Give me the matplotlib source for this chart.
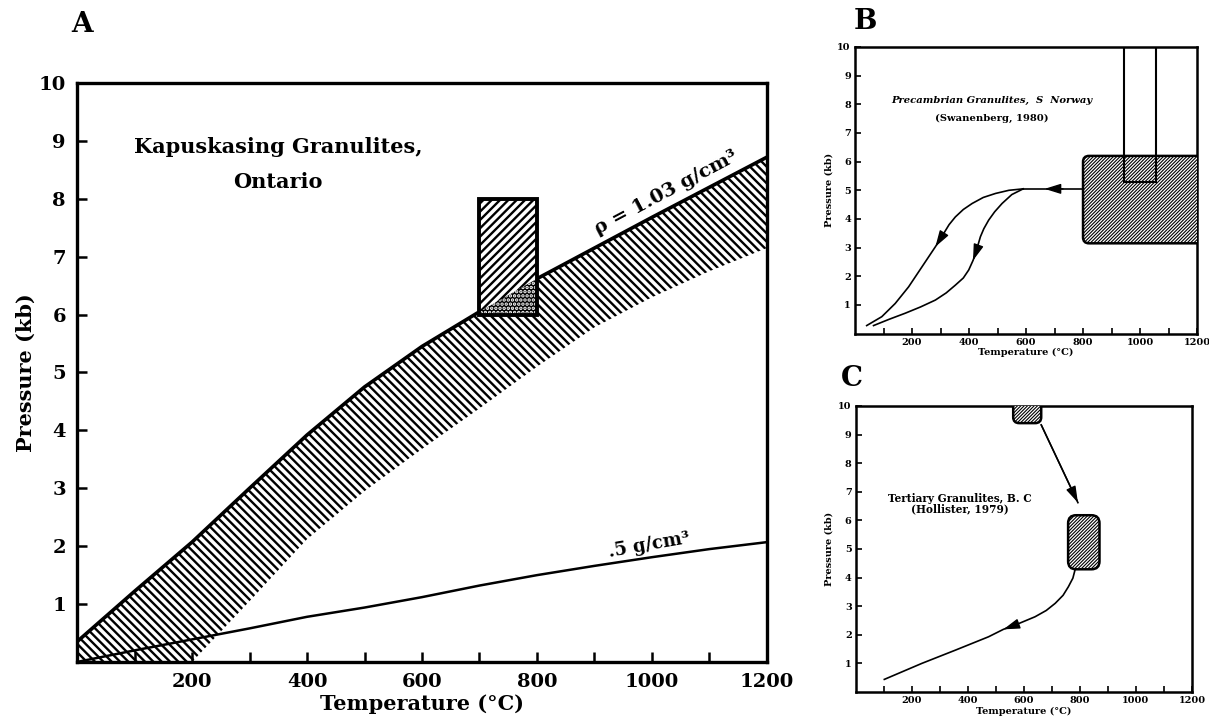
import numpy as np
import matplotlib
matplotlib.use('Agg')
import matplotlib.pyplot as plt
from matplotlib.patches import Rectangle, FancyBboxPatch, Polygon

plt.rcParams['font.family'] = 'DejaVu Serif'
plt.rcParams['font.weight'] = 'bold'
plt.rcParams['axes.labelweight'] = 'bold'
plt.rcParams['hatch.linewidth'] = 1.7

# ---- panel A data (Kapuskasing) ----
temp_a = [0, 100, 200, 300, 400, 500, 600, 700, 800, 900, 1000, 1100, 1200]
rho_103_top = [0.35, 1.22, 2.07, 3.0, 3.92, 4.75, 5.45, 6.05, 6.62, 7.15, 7.68, 8.2, 8.72]
rho_103_bot = [-2.2, -1.1, 0.0, 1.05, 2.12, 2.95, 3.68, 4.38, 5.1, 5.78, 6.3, 6.75, 7.15]
rho_05 = [0.0, 0.2, 0.39, 0.58, 0.78, 0.94, 1.12, 1.32, 1.5, 1.66, 1.81, 1.95, 2.07]
box_a_t = [700, 800]
box_a_p = [6.0, 8.0]

# ---- panel B data (S Norway) ----
norway_box_t = [800, 1230]
norway_box_p = [3.15, 6.2]
norway_open_t = [945, 1055]
norway_open_p = [5.3, 10.5]
path_b_flat_t = [800, 590]
path_b_flat_p = [5.05, 5.05]
path_b_outer_t = [590, 540, 493, 450, 411, 380, 352, 330, 311, 282, 235, 188, 141, 94, 41]
path_b_outer_p = [5.05, 5.0, 4.89, 4.75, 4.54, 4.33, 4.07, 3.8, 3.49, 3.03, 2.33, 1.63, 1.05, 0.59, 0.28]
path_b_inner_t = [590, 550, 516, 490, 469, 452, 440, 423, 414, 399, 380, 352, 320, 282, 230, 176, 120, 65]
path_b_inner_p = [5.05, 4.85, 4.54, 4.25, 3.96, 3.66, 3.38, 2.80, 2.55, 2.22, 1.94, 1.69, 1.42, 1.17, 0.93, 0.71, 0.5, 0.28]

# ---- panel C data (B.C.) ----
bc_top_t = [562, 662]
bc_top_p = [9.4, 10.6]
bc_mid_t = [758, 870]
bc_mid_p = [4.29, 6.18]
path_c1_t = [662, 793]
path_c1_p = [9.34, 6.62]
path_c2_t = [783, 775, 759, 740, 712, 680, 640, 569, 527, 474, 355, 236, 102]
path_c2_p = [4.28, 3.98, 3.68, 3.38, 3.10, 2.85, 2.63, 2.34, 2.19, 1.93, 1.46, 1.00, 0.44]

fig = plt.figure(figsize=(12.09, 7.23), dpi=100)

# ================= panel A =================
ax = fig.add_axes([0.0637, 0.0844, 0.5707, 0.8008])
ax.set_xlim(0, 1200)
ax.set_ylim(0, 10)
ax.fill_between(temp_a, rho_103_bot, rho_103_top, facecolor='white', edgecolor='black',
                hatch='\\\\\\\\', linewidth=0)
ax.plot(temp_a, rho_103_top, color='black', lw=2.6, solid_capstyle='butt')
ax.plot(temp_a, rho_05, color='black', lw=1.8)

# P-T box, single hatch above the band, dotted where it overlaps
ax.add_patch(Rectangle((box_a_t[0], box_a_p[0]), box_a_t[1] - box_a_t[0], box_a_p[1] - box_a_p[0],
                       facecolor='white', edgecolor='black', hatch='////', linewidth=0, zorder=3))
i0 = temp_a.index(box_a_t[0])
i1 = temp_a.index(box_a_t[1])
ov = [(box_a_t[0], box_a_p[0]), (box_a_t[1], box_a_p[0])]
ov += [(temp_a[i], rho_103_top[i]) for i in range(i1, i0 - 1, -1)]
ax.add_patch(Polygon(ov, closed=True, facecolor='black', edgecolor='white', hatch='....',
                     linewidth=0, zorder=4))
ax.add_patch(Rectangle((box_a_t[0], box_a_p[0]), box_a_t[1] - box_a_t[0], box_a_p[1] - box_a_p[0],
                       facecolor='none', edgecolor='black', linewidth=2.8, zorder=5))

ax.text(1025, 8.1, 'ρ = 1.03 g/cm³', rotation=28, ha='center', va='center', fontsize=14)
ax.text(995, 2.02, '.5 g/cm³', rotation=10, ha='center', va='center', fontsize=13)
ax.text(350, 8.9, 'Kapuskasing Granulites,', ha='center', va='center', fontsize=15)
ax.text(350, 8.29, 'Ontario', ha='center', va='center', fontsize=15)

ax.set_xticks(np.arange(100, 1201, 100))
ax.set_xticklabels(['' if t % 200 else str(t) for t in range(100, 1201, 100)])
ax.set_yticks(range(1, 11))
ax.tick_params(direction='in', length=7, width=1.8, labelsize=14, pad=8)
for s in ax.spines.values():
    s.set_linewidth(2.4)
ax.set_xlabel('Temperature (°C)', fontsize=15, labelpad=2)
ax.set_ylabel('Pressure (kb)', fontsize=15, labelpad=2)
fig.text(0.068, 0.966, 'A', fontsize=20, fontweight='bold', ha='center', va='center')


def small_axes(rect):
    a = fig.add_axes(rect)
    a.set_xlim(0, 1200)
    a.set_ylim(0, 10)
    a.set_xticks(np.arange(100, 1201, 100))
    a.set_xticklabels(['' if t % 200 else str(t) for t in range(100, 1201, 100)])
    a.set_yticks(range(1, 11))
    a.tick_params(direction='in', length=4, width=1.2, labelsize=7, pad=3)
    for s in a.spines.values():
        s.set_linewidth(1.8)
    a.set_xlabel('Temperature (°C)', fontsize=7, labelpad=1)
    a.set_ylabel('Pressure (kb)', fontsize=7, labelpad=3)
    return a


def rounded(a, t, p, r_px=6):
    # rounded box in data units; corner radius given in pixels
    w_px = a.bbox.width / 1200.0
    h_px = a.bbox.height / 10.0
    rs = r_px / w_px
    asp = (r_px / h_px) / rs
    return FancyBboxPatch((t[0], p[0]), t[1] - t[0], p[1] - p[0],
                          boxstyle='round,pad=0,rounding_size=%f' % rs, mutation_aspect=asp,
                          facecolor='white', edgecolor='black', hatch='//////////', linewidth=1.8,
                          zorder=3)


def arrowhead(a, ts, ps, i, scale=11):
    a.annotate('', xy=(ts[i + 1], ps[i + 1]), xytext=(ts[i], ps[i]),
               arrowprops=dict(arrowstyle='-|>,head_length=0.9,head_width=0.28', color='black',
                               lw=1.0, mutation_scale=scale, shrinkA=0, shrinkB=0), zorder=6)


plt.rcParams['hatch.linewidth'] = 0.8

# ================= panel B =================
bx = small_axes([0.7072, 0.5386, 0.2829, 0.3964])
bx.add_patch(rounded(bx, norway_box_t, norway_box_p))
bx.add_patch(Rectangle((norway_open_t[0], norway_open_p[0]), norway_open_t[1] - norway_open_t[0],
                       norway_open_p[1] - norway_open_p[0], facecolor='none', edgecolor='black',
                       linewidth=1.5, zorder=4))
bx.plot(path_b_flat_t, path_b_flat_p, color='black', lw=1.2)
bx.plot(path_b_outer_t, path_b_outer_p, color='black', lw=1.2)
bx.plot(path_b_inner_t, path_b_inner_p, color='black', lw=1.2)
bx.annotate('', xy=(665, 5.05), xytext=(730, 5.05),
            arrowprops=dict(arrowstyle='-|>,head_length=0.9,head_width=0.28', color='black',
                            lw=1.0, mutation_scale=11, shrinkA=0, shrinkB=0))
arrowhead(bx, path_b_outer_t, path_b_outer_p, 8)
arrowhead(bx, path_b_inner_t, path_b_inner_p, 7)
bx.text(480, 8.14, 'Precambrian Granulites,  S  Norway', style='italic', ha='center', va='center',
        fontsize=7.2)
bx.text(480, 7.51, '(Swanenberg, 1980)', ha='center', va='center', fontsize=7.2)
fig.text(0.716, 0.970, 'B', fontsize=20, fontweight='bold', ha='center', va='center')

# ================= panel C =================
cx = small_axes([0.7078, 0.0429, 0.2781, 0.3956])
cx.add_patch(rounded(cx, bc_top_t, bc_top_p))
cx.add_patch(rounded(cx, bc_mid_t, bc_mid_p, r_px=8))
cx.plot(path_c1_t, path_c1_p, color='black', lw=1.2)
arrowhead(cx, path_c1_t, path_c1_p, 0, scale=11)
cx.plot(path_c2_t, path_c2_p, color='black', lw=1.2)
arrowhead(cx, path_c2_t, path_c2_p, 7)
cx.text(372, 6.78, 'Tertiary Granulites, B. C', ha='center', va='center', fontsize=7.6)
cx.text(372, 6.4, '(Hollister, 1979)', ha='center', va='center', fontsize=7.6)
fig.text(0.705, 0.476, 'C', fontsize=20, fontweight='bold', ha='center', va='center')

fig.savefig('out.png', dpi=100)
